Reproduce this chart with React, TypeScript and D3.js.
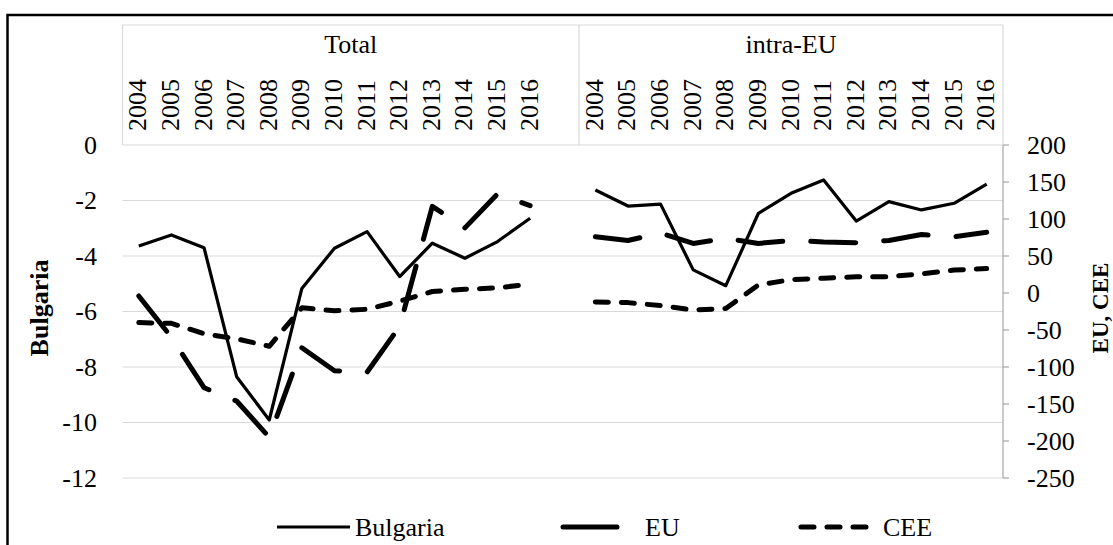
import React from "react";
import * as d3 from "d3";

const years = ["2004","2005","2006","2007","2008","2009","2010","2011","2012","2013","2014","2015","2016"];
const groups = ["Total", "intra-EU"];

const bulgariaTotal = [-3.64, -3.24, -3.7, -8.35, -9.91, -5.17, -3.72, -3.12, -4.74, -3.54, -4.08, -3.48, -2.64];
const euTotal = [-4, -60, -128, -146, -195, -74, -105, -107, -45, 117, 88, 134, 118];
const ceeTotal = [-40, -41, -55, -62, -72, -20, -24, -22, -11, 2, 5, 7, 12];

const bulgariaIntra = [-1.62, -2.2, -2.13, -4.5, -5.07, -2.46, -1.74, -1.26, -2.74, -2.04, -2.34, -2.1, -1.41];
const euIntra = [76, 71, 81, 67, 74, 67, 71, 69, 68, 71, 79, 76, 82];
const ceeIntra = [-12, -13, -17, -23, -21, 11, 18, 20, 22, 22, 26, 31, 33];

const leftTicks = [0, -2, -4, -6, -8, -10, -12];
const rightTicks = [200, 150, 100, 50, 0, -50, -100, -150, -200, -250];

const legendItems = ["Bulgaria", "EU", "CEE"];

const W = 1113;
const H = 545;
const plotL = 122.5;
const plotR = 1003;
const plotT = 145;
const plotB = 478;
const FONT = "'Liberation Serif', 'Times New Roman', serif";
const FS = 26;

export default function App() {
  const keys: string[] = [];
  years.forEach((y) => keys.push("Total-" + y));
  keys.push("Total-blank");
  years.forEach((y) => keys.push("intra-" + y));

  const x = d3.scalePoint<string>().domain(keys).range([plotL, plotR]).padding(0.5);
  const yL = d3.scaleLinear().domain([-12, 0]).range([plotB, plotT]);
  const yR = d3.scaleLinear().domain([-250, 200]).range([plotB, plotT]);

  const lineL = (prefix: string, vals: number[]) =>
    d3.line<number>().x((_, i) => x(prefix + years[i]) as number).y((v) => yL(v))(vals) || "";
  const lineR = (prefix: string, vals: number[]) =>
    d3.line<number>().x((_, i) => x(prefix + years[i]) as number).y((v) => yR(v))(vals) || "";

  const step = x.step();
  const divX = plotL + 14 * step;

  const series = [
    { name: "Bulgaria", sw: 3.2, dash: undefined as string | undefined, cap: "butt" as const },
    { name: "EU", sw: 5, dash: "45 28", cap: "round" as const },
    { name: "CEE", sw: 5, dash: "13 13", cap: "round" as const },
  ];

  const paths = [
    { d: lineL("Total-", bulgariaTotal), s: series[0] },
    { d: lineL("intra-", bulgariaIntra), s: series[0] },
    { d: lineR("Total-", euTotal), s: series[1] },
    { d: lineR("intra-", euIntra), s: series[1] },
    { d: lineR("Total-", ceeTotal), s: series[2] },
    { d: lineR("intra-", ceeIntra), s: series[2] },
  ];

  const legendPos = [
    { x1: 277, x2: 350, tx: 355 },
    { x1: 563, x2: 617, tx: 645 },
    { x1: 801, x2: 876, tx: 883 },
  ];
  const legendY = 527;

  return (
    <svg width={W} height={H} style={{ position: "absolute", left: 0, top: 0, background: "#fff" }} fontFamily={FONT}>
      <rect x={0} y={0} width={W} height={H} fill="#fff" />
      <rect x={7.5} y={15} width={W + 20} height={H + 20} fill="none" stroke="#000" strokeWidth={2.5} />

      {/* gridlines */}
      {leftTicks.map((t) => (
        <line key={"g" + t} x1={plotL} x2={plotR} y1={yL(t)} y2={yL(t)} stroke="#d9d9d9" strokeWidth={1.2} />
      ))}

      {/* header box */}
      <line x1={plotL} x2={plotR} y1={25} y2={25} stroke="#d9d9d9" strokeWidth={1.2} />
      <line x1={plotL} x2={plotL} y1={25} y2={plotT} stroke="#d9d9d9" strokeWidth={1.2} />
      <line x1={divX} x2={divX} y1={25} y2={plotT} stroke="#d9d9d9" strokeWidth={1.2} />
      <line x1={plotR} x2={plotR} y1={25} y2={plotT} stroke="#d9d9d9" strokeWidth={1.2} />

      {/* group labels */}
      <text x={(plotL + divX) / 2} y={53} textAnchor="middle" fontSize={FS}>{groups[0]}</text>
      <text x={(divX + plotR) / 2} y={53} textAnchor="middle" fontSize={FS}>{groups[1]}</text>

      {/* year labels */}
      {["Total-", "intra-"].map((p) =>
        years.map((yr) => {
          const cx = x(p + yr) as number;
          return (
            <text
              key={p + yr}
              transform={`translate(${cx - 1},131) rotate(-90)`}
              textAnchor="start"
              dominantBaseline="central"
              fontSize={FS}
            >
              {yr}
            </text>
          );
        })
      )}

      {/* left axis labels */}
      {leftTicks.map((t) => (
        <text key={"l" + t} x={97} y={yL(t)} textAnchor="end" dominantBaseline="central" fontSize={FS}>
          {t}
        </text>
      ))}

      {/* right axis */}
      <line x1={plotR} x2={plotR} y1={plotT} y2={plotB} stroke="#a6a6a6" strokeWidth={1.2} />
      {rightTicks.map((t) => (
        <g key={"r" + t}>
          <line x1={plotR} x2={plotR + 6} y1={yR(t)} y2={yR(t)} stroke="#a6a6a6" strokeWidth={1.2} />
          <text x={1027} y={yR(t)} textAnchor="start" dominantBaseline="central" fontSize={FS}>
            {t}
          </text>
        </g>
      ))}

      {/* axis titles */}
      <text transform={`translate(39,308) rotate(-90)`} textAnchor="middle" dominantBaseline="central" fontSize={FS} fontWeight="bold">
        Bulgaria
      </text>
      <text transform={`translate(1100,308) rotate(-90)`} textAnchor="middle" dominantBaseline="central" fontSize={23} fontWeight="bold">
        EU, CEE
      </text>

      {/* series */}
      {paths.map((p, i) => (
        <path
          key={"p" + i}
          d={p.d}
          fill="none"
          stroke="#000"
          strokeWidth={p.s.sw}
          strokeDasharray={p.s.dash}
          strokeLinecap={p.s.cap}
          strokeLinejoin="round"
        />
      ))}

      {/* legend */}
      {legendItems.map((name, i) => (
        <g key={"lg" + name}>
          <line
            x1={legendPos[i].x1}
            x2={legendPos[i].x2}
            y1={legendY}
            y2={legendY}
            stroke="#000"
            strokeWidth={series[i].sw}
            strokeDasharray={i === 2 ? series[i].dash : undefined}
            strokeLinecap={i === 0 ? "butt" : "round"}
          />
          <text x={legendPos[i].tx} y={legendY} dominantBaseline="central" fontSize={FS}>
            {name}
          </text>
        </g>
      ))}
    </svg>
  );
}
